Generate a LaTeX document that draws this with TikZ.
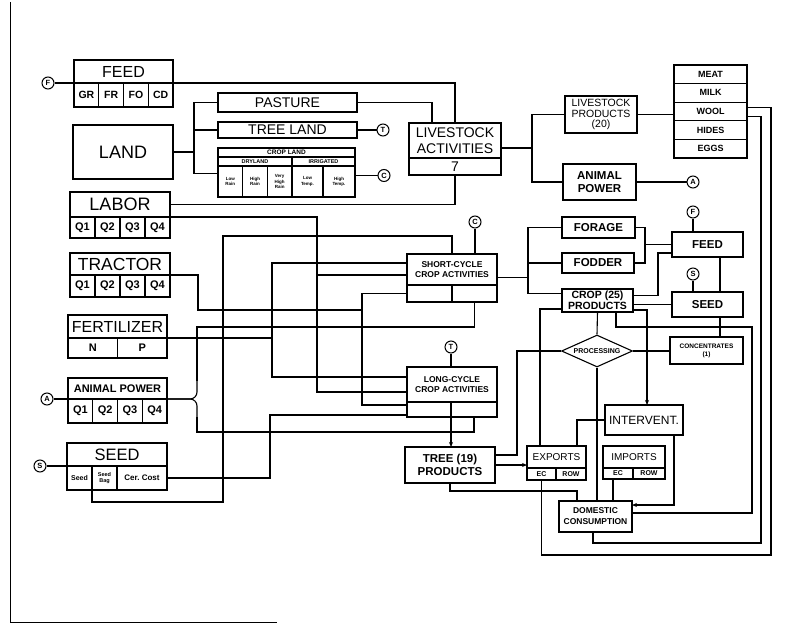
\documentclass[tikz,border=0pt]{standalone}
\usepackage{fontspec}
\setmainfont{Liberation Sans}
\usetikzlibrary{arrows.meta, shapes.geometric}
\tikzset{
  every picture/.style={line width=1.1pt, x=1pt, y=-1pt},
  box/.style={draw, rectangle, align=center, inner sep=0pt, outer sep=0pt},
  tag/.style={draw, circle, inner sep=0pt, minimum size=12pt, line width=1pt, font=\bfseries\fontsize{7.5}{7.5}\selectfont},
  arrow/.style={-{Stealth[length=5pt, width=4pt]}},
  txt/.style 2 args={font=\fontsize{#1}{#2}\selectfont},
  btxt/.style 2 args={font=\bfseries\fontsize{#1}{#2}\selectfont},
}
\newcommand{\blk}[7][]{% #1 style, #2 name, #3 x1, #4 y1, #5 x2, #6 y2, #7 label
  \node[box, #1, anchor=north west, minimum width={((#5)-(#3))*1pt},
        minimum height={((#6)-(#4))*1pt}] (#2) at ({#3},{#4}) {#7};}

\begin{document}
\begin{tikzpicture}
  \useasboundingbox (0,0) rectangle (802,626);
  \draw[line width=1pt] (10,2) -- (10,622) -- (277,622);
  % resources
  \node[tag] (tagF1) at (48,83) {F};
  \blk[txt={16}{16}]{feedhead}{74}{60}{173}{83}{FEED}
  \foreach \lab [count=\i] in {GR,FR,FO,CD}
    {\blk[btxt={10.5}{10.5}]{feed\i}{74+(\i-1)*24.75}{83}{74+\i*24.75}{107}{\lab}}
  \blk[txt={18}{18}]{land}{73}{125}{173}{179}{LAND}
  \blk[txt={18}{18}]{laborhead}{70}{192}{170}{217}{LABOR}
  \foreach \i in {1,...,4}
    {\blk[btxt={11}{11}]{labor\i}{70+(\i-1)*25}{217}{70+\i*25}{238}{Q\i}}
  \blk[txt={17.5}{17.5}]{tractorhead}{70}{253}{170}{275}{TRACTOR}
  \foreach \i in {1,...,4}
    {\blk[btxt={11}{11}]{tractor\i}{70+(\i-1)*25}{275}{70+\i*25}{297}{Q\i}}
  \blk[txt={16}{16}]{fertilizerhead}{68}{315}{167}{338}{FERTILIZER}
  \blk[btxt={11}{11}]{fert1}{68}{338}{117.5}{358}{N}
  \blk[btxt={11}{11}]{fert2}{117.5}{338}{167}{358}{P}
  \node[tag] (tagA1) at (47,399) {A};
  \blk[btxt={11}{11}]{aphead}{68}{378}{167}{399}{ANIMAL POWER}
  \foreach \i in {1,...,4}
    {\blk[btxt={11}{11}]{ap\i}{68+(\i-1)*24.75}{399}{68+\i*24.75}{423}{Q\i}}
  \node[tag] (tagS1) at (40,466) {S};
  \blk[txt={16.5}{16.5}]{seedhead}{67}{443}{167}{466}{SEED}
  \blk[btxt={7}{7}]{seed1}{67}{466}{92}{490}{Seed}
  \blk[btxt={5.5}{6}]{seed2}{92}{466}{117}{490}{Seed\\Bag}
  \blk[btxt={8}{8}]{seed3}{117}{466}{167}{490}{Cer.\ Cost}
  % land use
  \blk[txt={14}{14}]{pasture}{218}{93}{357}{112}{PASTURE}
  \blk[txt={14}{14}]{treeland}{218}{122}{357}{138}{TREE LAND}
  \node[tag] (tagT1) at (383,130) {T};
  \blk[btxt={6.5}{6.5}]{crophead}{218}{148}{355}{157}{CROP LAND}
  \blk[btxt={5.5}{5.5}]{dryland}{218}{157}{292}{166}{DRYLAND}
  \blk[btxt={5.5}{5.5}]{irrigated}{292}{157}{355}{166}{IRRIGATED}
  \foreach \lab [count=\i] in {{Low\\Rain},{High\\Rain},{Very\\High\\Rain}}
    {\blk[btxt={4.5}{5.2}]{crop\i}{218+(\i-1)*24.67}{166}{218+\i*24.67}{197}{\lab}}
  \blk[btxt={4.5}{5.2}]{crop4}{292}{166}{323}{197}{Low\\Temp.}
  \blk[btxt={4.5}{5.2}]{crop5}{323}{166}{355}{197}{High\\Temp.}
  \node[tag] (tagC1) at (384,175.5) {C};
  % activities
  \blk[txt={14}{16}]{lsact}{409}{123}{501}{158}{LIVESTOCK\\ACTIVITIES}
  \blk[txt={14}{14}]{lsact1}{409}{158}{501}{175}{7}
  \node[tag] (tagC2) at (475,222) {C};
  \blk[btxt={8.5}{10}]{scyc}{407}{254}{497}{285}{SHORT-CYCLE\\CROP ACTIVITIES}
  \blk{scyc1}{407}{285}{452}{302}{}
  \blk{scyc2}{452}{285}{497}{302}{}
  \node[tag] (tagT2) at (451,347) {T};
  \blk[btxt={8.5}{10}]{lcyc}{407}{367}{497}{402}{LONG-CYCLE\\CROP ACTIVITIES}
  \blk{lcyc1}{407}{402}{451}{417}{}
  \blk{lcyc2}{451}{402}{497}{417}{}
  \blk[btxt={11.5}{13}]{treeprod}{405}{447}{495}{483}{TREE (19)\\PRODUCTS}
  % products
  \blk[txt={10.5}{10.5}]{lsprod}{565}{96}{637}{133}{LIVESTOCK\\PRODUCTS\\(20)}
  \foreach \lab [count=\i] in {MEAT,MILK,WOOL,HIDES,EGGS}
    {\blk[btxt={9}{9}]{pr\i}{674}{65+(\i-1)*18.6}{747}{65+\i*18.6}{\lab}}
  \blk[btxt={11.5}{13}]{anpower}{563}{164}{636}{200}{ANIMAL\\POWER}
  \node[tag] (tagA2) at (693,182) {A};
  \blk[btxt={11.5}{11.5}]{forage}{562}{217}{635}{238}{FORAGE}
  \blk[btxt={11.5}{11.5}]{fodder}{562}{253}{634}{273}{FODDER}
  \node[tag] (tagF2) at (693,212) {F};
  \blk[btxt={11.5}{11.5}]{feedr}{672}{232}{743}{257}{FEED}
  \blk[btxt={10.5}{11}]{cropprod}{562}{289}{633}{312}{CROP (25)\\PRODUCTS}
  \node[tag] (tagS2) at (693,274) {S};
  \blk[btxt={11.5}{11.5}]{seedr}{672}{292}{743}{317}{SEED}
  \node[draw, diamond, aspect=2.2, inner sep=0pt, minimum width=71pt, minimum height=32pt,
        btxt={7}{7}] (proc) at (597,351) {PROCESSING};
  \blk[btxt={6.5}{8}]{conc}{670}{337}{743}{364}{CONCENTRATES\\(1)}
  \blk[txt={12}{12}]{intervent}{605}{405}{683}{435}{INTERVENT.}
  \blk[txt={10}{10}]{exph}{527}{446}{586}{468}{EXPORTS}
  \blk[btxt={7}{7}]{exp1}{527}{468}{556}{480}{EC}
  \blk[btxt={7}{7}]{exp2}{556}{468}{586}{480}{ROW}
  \blk[txt={10}{10}]{imph}{603}{446}{665}{468}{IMPORTS}
  \blk[btxt={7}{7}]{imp1}{603}{468}{633}{479}{EC}
  \blk[btxt={7}{7}]{imp2}{633}{468}{665}{479}{ROW}
  \blk[btxt={8.5}{11}]{domestic}{559}{501}{632}{532}{DOMESTIC\\CONSUMPTION}
  % resource links
  \draw (tagF1) -- (feedhead.south west);
  \draw (feedhead.south east) -| (lsact.north);
  \draw (pasture.east) -| (432,123);
  \draw (land.east) -- (194,152);
  \draw (pasture.west) -| (194,173.5) -- (218,173.5);
  \draw (treeland.west) -- (194,130);
  \draw (treeland.east) -- (tagT1);
  \draw (crop5.east |- tagC1) -- (tagC1);
  \draw (laborhead.east) -| (lsact1.south);
  \draw (laborhead.south east) -| (317,392) -- ([yshift=-7.5pt]lcyc.west);
  \draw (317,275) -- ([yshift=-5.5pt]scyc.west);
  \draw (tractorhead.south east) -- (198,275) |- (362,310);
  \draw (scyc1.west) -| (362,405) -- ([yshift=4.5pt]lcyc1.west);
  \draw (fertilizerhead.south east) -- (272,338);
  \draw ([yshift=6.5pt]scyc.west) -| (272,377) -- ([yshift=7.5pt]lcyc.west);
  \draw (tagA1) -- (aphead.south west);
  \draw[rounded corners=7pt] (aphead.south east) -- (197,399) -- (197,380);
  \draw[rounded corners=7pt] (aphead.south east) -- (197,399) -- (197,418);
  \draw (197,381) -- (197,327) -| (scyc2.south);
  \draw (197,417) -- (197,432) -| (lcyc2.south);
  \draw (tagS1) -- (seedhead.south west);
  \draw (seed3.east) -| (270,415) -- ([yshift=-5.5pt]lcyc1.west);
  \draw (seed2.south west) -- (92,502) -| (223,236) -| (scyc.north);
  \draw (tagC2) -- (tagC2 |- scyc.north);
  \draw (tagT2) -- (tagT2 |- lcyc.north);
  % livestock links
  \draw ([yshift=-7.5pt]lsact.east) -- (532,148);
  \draw (lsprod.west) -| (532,182) -- (anpower.west);
  \draw (lsprod.east) -- (pr3.west |- lsprod.east);
  \draw (anpower.east) -- (tagA2);
  % crop links
  \draw ([yshift=-8pt]scyc.east) -- (528,277.5);
  \draw (forage.west) -| (528,293.5) -- ([yshift=7pt]cropprod.west);
  \draw (fodder.west) -- (528,263);
  \draw (forage.east) -| (645,263) -- (fodder.east);
  \draw (645,244.5) -- (feedr.west);
  \draw ([yshift=5pt]cropprod.east) -| (658,253) -- ([yshift=-8.5pt]feedr.west);
  \draw (cropprod.east |- seedr.west) -- (seedr.west);
  \draw (tagF2) -- (tagF2 |- feedr.north);
  \draw (tagS2) -- (tagS2 |- seedr.north);
  \draw ([xshift=12.5pt]feedr.south) -- ([xshift=12.5pt]seedr.north);
  \draw ([xshift=12.5pt]seedr.south) -- (720,337);
  \draw (cropprod.south) -- (proc.north);
  \draw (proc.east) -- (conc.west |- proc.east);
  \draw ([yshift=10pt]treeprod.east) -| (517,351) -- (proc.west);
  \draw (proc.south) -- (proc.south |- domestic.north);
  \draw ([yshift=-8.5pt]cropprod.west) -| (540,446);
  \draw[arrow] ([yshift=-9.5pt]cropprod.east) -| (647,405);
  \draw (intervent.west) -| (577,446);
  \draw[arrow] ([xshift=30pt]intervent.south) |- ([yshift=11.5pt]domestic.east);
  \draw[arrow] (lcyc1.south east) -- (lcyc1.south east |- treeprod.north);
  \draw[arrow] (treeprod.east) -- (exph.west |- treeprod.east);
  \draw (treeprod.south) -- (450,491) -| (577,501);
  \draw ([xshift=-5pt]imp1.south) -- (613,501);
  \draw ([xshift=18.5pt]cropprod.south) |- (752,327) |- ([yshift=3.5pt]domestic.east);
  \draw (exp1.south) |- (771,555) |- ([yshift=4pt]pr3.east);
  \draw ([xshift=-2.5pt]domestic.south) |- (761,543) |- ([yshift=-5pt]pr3.east);
\end{tikzpicture}
\end{document}
